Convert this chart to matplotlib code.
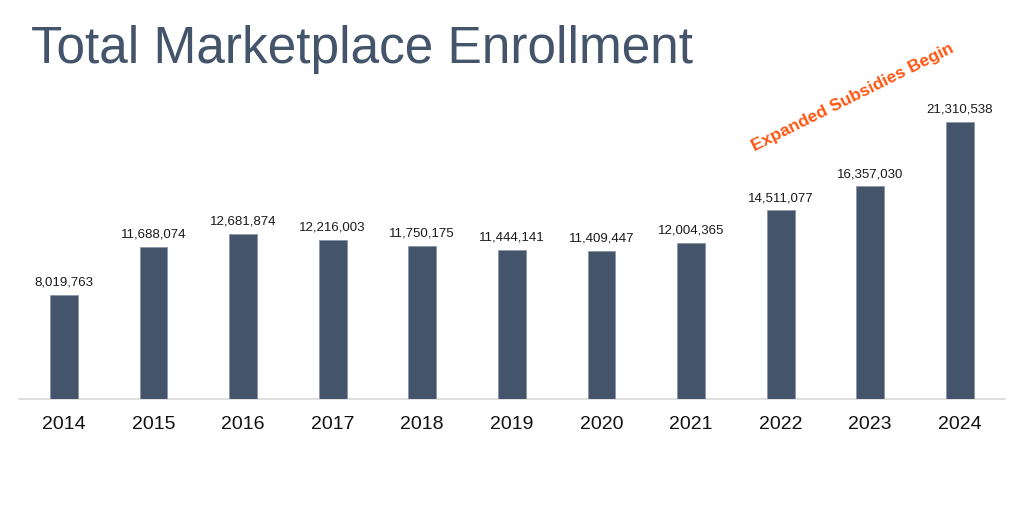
import numpy as np
from matplotlib import pyplot as plt

# data
years = ['2014', '2015', '2016', '2017', '2018', '2019', '2020', '2021', '2022', '2023', '2024']
enrollment = [8019763, 11688074, 12681874, 12216003, 11750175, 11444141,
              11409447, 12004365, 14511077, 16357030, 21310538]

title = 'Total Marketplace Enrollment'
note = 'Expanded Subsidies Begin'

bar_color = '#44546A'
note_color = '#FF5511'

plt.rcParams['font.family'] = ['Liberation Sans', 'DejaVu Sans']

fig = plt.figure(figsize=(10.24, 5.15), dpi=100)
ax = fig.add_axes([0.0186, 0.2252, 0.9625, 0.606])

x = np.arange(len(years))
bars = ax.bar(x, enrollment, width=0.31, color=bar_color, edgecolor='#8A96A8', linewidth=0.6, zorder=3)

# value labels above bars
for xi, v in zip(x, enrollment):
    ax.annotate(f'{v:,}', (xi, v), xytext=(0, 4.5), textcoords='offset points',
                ha='center', va='bottom', fontsize=9.5, color='#1a1a1a')

ax.set_xlim(-0.5, 10.5)
ax.set_ylim(0, 24000000)
ax.set_xticks(x)
ax.set_xticklabels(years, fontsize=14, color='#111111')
ax.tick_params(axis='x', length=0, pad=12)
ax.set_yticks([])

for s in ['top', 'right', 'left']:
    ax.spines[s].set_visible(False)
ax.spines['bottom'].set_color('#D9D9D9')
ax.spines['bottom'].set_linewidth(1.2)

fig.text(0.030, 0.8777, title, fontsize=37, color=bar_color, ha='left', va='baseline')

ax.text(8.8, 23200000, note, rotation=26.5, rotation_mode='anchor', ha='center', va='center',
        fontsize=12.5, fontweight='bold', color=note_color)

fig.savefig('out.png', dpi=100)
